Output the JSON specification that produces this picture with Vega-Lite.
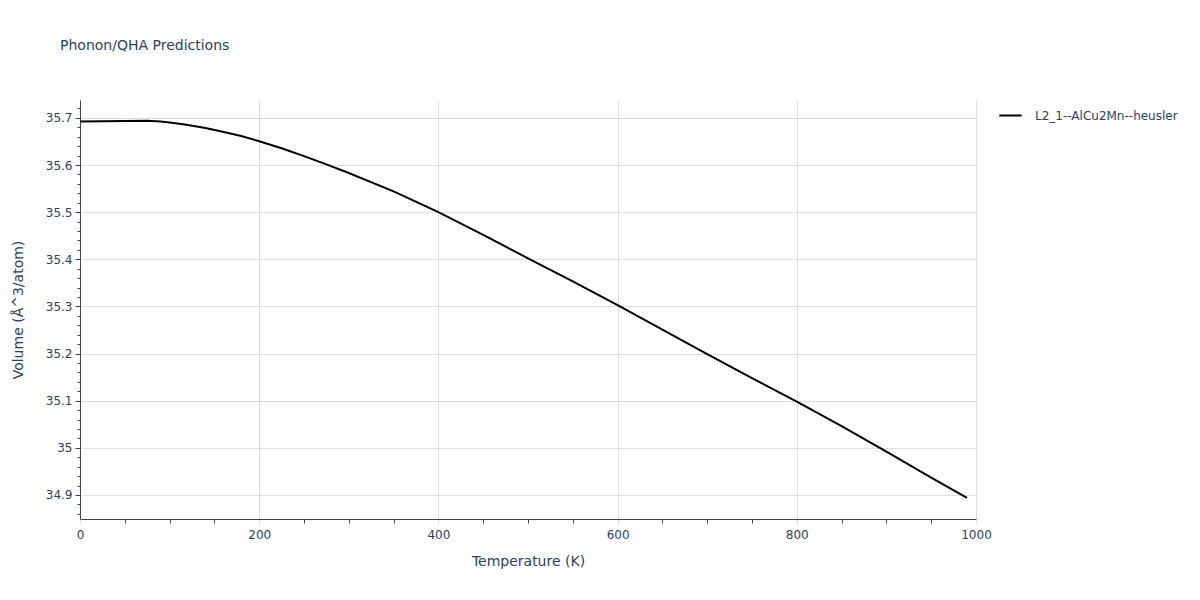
{
  "$schema": "https://vega.github.io/schema/vega-lite/v6.json",
  "autosize": {"type": "none"},
  "width": 896,
  "height": 419,
  "padding": {"left": 80, "top": 100, "right": 224, "bottom": 81},
  "background": "white",
  "title": {
    "text": "Phonon/QHA Predictions",
    "anchor": "start",
    "frame": "group",
    "dx": -20,
    "offset": 47,
    "font": "DejaVu Sans",
    "fontSize": 14,
    "fontWeight": "normal",
    "color": "#2a3f5f"
  },
  "data": {
    "values": [
      {"T": 0, "V": 35.6926, "phase": "L2_1--AlCu2Mn--heusler"},
      {"T": 75, "V": 35.6938, "phase": "L2_1--AlCu2Mn--heusler"},
      {"T": 90, "V": 35.6925, "phase": "L2_1--AlCu2Mn--heusler"},
      {"T": 100, "V": 35.6905, "phase": "L2_1--AlCu2Mn--heusler"},
      {"T": 117, "V": 35.6860, "phase": "L2_1--AlCu2Mn--heusler"},
      {"T": 140, "V": 35.6785, "phase": "L2_1--AlCu2Mn--heusler"},
      {"T": 158, "V": 35.6710, "phase": "L2_1--AlCu2Mn--heusler"},
      {"T": 180, "V": 35.6615, "phase": "L2_1--AlCu2Mn--heusler"},
      {"T": 200, "V": 35.6505, "phase": "L2_1--AlCu2Mn--heusler"},
      {"T": 225, "V": 35.6355, "phase": "L2_1--AlCu2Mn--heusler"},
      {"T": 250, "V": 35.6190, "phase": "L2_1--AlCu2Mn--heusler"},
      {"T": 275, "V": 35.6015, "phase": "L2_1--AlCu2Mn--heusler"},
      {"T": 300, "V": 35.5830, "phase": "L2_1--AlCu2Mn--heusler"},
      {"T": 350, "V": 35.5440, "phase": "L2_1--AlCu2Mn--heusler"},
      {"T": 400, "V": 35.5000, "phase": "L2_1--AlCu2Mn--heusler"},
      {"T": 450, "V": 35.4520, "phase": "L2_1--AlCu2Mn--heusler"},
      {"T": 500, "V": 35.4020, "phase": "L2_1--AlCu2Mn--heusler"},
      {"T": 550, "V": 35.3530, "phase": "L2_1--AlCu2Mn--heusler"},
      {"T": 600, "V": 35.3030, "phase": "L2_1--AlCu2Mn--heusler"},
      {"T": 650, "V": 35.2510, "phase": "L2_1--AlCu2Mn--heusler"},
      {"T": 700, "V": 35.1990, "phase": "L2_1--AlCu2Mn--heusler"},
      {"T": 750, "V": 35.1480, "phase": "L2_1--AlCu2Mn--heusler"},
      {"T": 800, "V": 35.0980, "phase": "L2_1--AlCu2Mn--heusler"},
      {"T": 850, "V": 35.0460, "phase": "L2_1--AlCu2Mn--heusler"},
      {"T": 900, "V": 34.9920, "phase": "L2_1--AlCu2Mn--heusler"},
      {"T": 950, "V": 34.9370, "phase": "L2_1--AlCu2Mn--heusler"},
      {"T": 990, "V": 34.8940, "phase": "L2_1--AlCu2Mn--heusler"}
    ]
  },
  "mark": {"type": "line", "strokeWidth": 2},
  "encoding": {
    "x": {
      "field": "T",
      "type": "quantitative",
      "scale": {"domain": [0, 1000], "nice": false, "zero": false},
      "axis": {
        "title": "Temperature (K)",
        "format": "d",
        "labelFlush": false,
        "values": [0, 50, 100, 150, 200, 250, 300, 350, 400, 450, 500, 550, 600, 650, 700, 750, 800, 850, 900, 950, 1000],
        "labelExpr": "datum.value % 200 == 0 ? datum.label : ''",
        "gridOpacity": {"condition": {"test": "datum.value % 200 == 0", "value": 1}, "value": 0},
        "tickColor": {"condition": {"test": "datum.value % 200 == 0", "value": "#dddddd"}, "value": "#444444"},
        "tickSize": {"condition": {"test": "datum.value % 200 == 0", "value": 5}, "value": 4},
        "titlePadding": 14,
        "labelPadding": 5
      }
    },
    "y": {
      "field": "V",
      "type": "quantitative",
      "scale": {"domain": [34.849, 35.738], "nice": false, "zero": false},
      "axis": {
        "title": "Volume (Å^3/atom)",
        "labelFlush": false,
        "values": [34.86, 34.88, 34.9, 34.92, 34.94, 34.96, 34.98, 35, 35.02, 35.04, 35.06, 35.08, 35.1, 35.12, 35.14, 35.16, 35.18, 35.2, 35.22, 35.24, 35.26, 35.28, 35.3, 35.32, 35.34, 35.36, 35.38, 35.4, 35.42, 35.44, 35.46, 35.48, 35.5, 35.52, 35.54, 35.56, 35.58, 35.6, 35.62, 35.64, 35.66, 35.68, 35.7, 35.72],
        "labelExpr": "round(datum.value * 100) % 10 == 0 ? format(datum.value, '~g') : ''",
        "gridOpacity": {"condition": {"test": "round(datum.value * 100) % 10 == 0", "value": 1}, "value": 0},
        "tickSize": {"condition": {"test": "round(datum.value * 100) % 10 == 0", "value": 5}, "value": 3},
        "titlePadding": 20,
        "labelPadding": 3
      }
    },
    "color": {
      "field": "phase",
      "type": "nominal",
      "scale": {"range": ["#000000"]},
      "legend": {
        "title": null,
        "orient": "none",
        "legendX": 918,
        "legendY": 3,
        "symbolType": "stroke",
        "symbolSize": 500,
        "symbolStrokeWidth": 2,
        "labelOffset": 12,
        "labelFontSize": 12,
        "labelColor": "#2a3f5f",
        "labelFont": "DejaVu Sans"
      }
    }
  },
  "config": {
    "view": {"stroke": null},
    "axis": {
      "domainColor": "#444444",
      "domainWidth": 1,
      "tickColor": "#444444",
      "gridColor": "#dddddd",
      "labelFont": "DejaVu Sans",
      "labelFontSize": 12,
      "labelColor": "#2a3f5f",
      "titleFont": "DejaVu Sans",
      "titleFontSize": 14,
      "titleFontWeight": "normal",
      "titleColor": "#2a3f5f"
    }
  }
}
